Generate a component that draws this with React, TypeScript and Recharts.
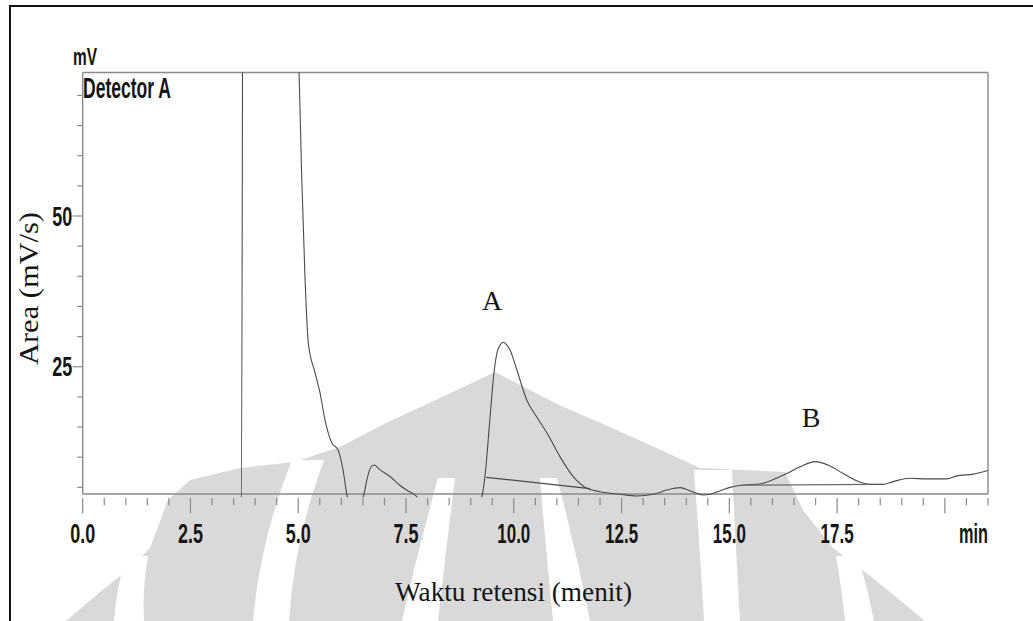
import React from 'react';
import { LineChart, Line, XAxis, YAxis, ReferenceLine } from 'recharts';

// Chromatogram trace (retention time in min, signal in mV)
const traceTime = [
  0, 1.5, 3.0, 3.68, 3.735, 4.3, 4.9, 4.99, 5.019, 5.081, 5.157, 5.234, 5.39, 5.506, 5.62, 5.777,
  5.923, 6.039, 6.125, 6.2, 6.42, 6.51, 6.6, 6.68, 6.76, 6.9, 7.13, 7.36, 7.55, 7.75, 7.85, 8.5,
  9.18, 9.26, 9.33, 9.45, 9.53, 9.61, 9.68, 9.76, 9.84, 9.91, 10.07, 10.3, 10.53, 10.77, 11.07,
  11.38, 11.69, 12.0, 12.47, 12.85, 13.24, 13.55, 13.86, 14.09, 14.4, 14.55, 14.78, 15.02, 15.33,
  15.71, 16.02, 16.33, 16.64, 16.99, 17.33, 17.64, 17.95, 18.26, 18.57, 18.8, 19.19, 19.58, 20.04,
  20.28, 20.66, 21.0,
];
const traceMv = [
  2, 2, 2, 2, 150, 150, 120, 80, 73.8, 56.3, 39.7, 28.9, 24.0, 20.65, 16.2, 12.4,
  11.2, 7.9, 3.9, 2.0, 2.0, 3.45, 6.5, 8.3, 8.7, 7.9, 6.8, 5.3, 4.4, 3.45, 2.0, 2.0,
  2.0, 3.45, 6.77, 16.7, 23.35, 27.3, 28.6, 29.06, 28.6, 27.8, 24.5, 19.5, 16.7, 14.0, 10.1,
  6.77, 4.85, 4.28, 3.85, 3.57, 3.85, 4.56, 4.95, 4.4, 3.73, 3.85, 4.4, 5.0, 5.4,
  5.56, 6.3, 7.3, 8.4, 9.26, 8.55, 7.3, 6.1, 5.5, 5.5, 5.95, 6.5, 6.4, 6.4,
  6.9, 7.2, 7.8,
];

// Integration baselines of peaks A and B
const baselineATime = [9.36, 11.77];
const baselineAMv = [6.67, 4.8];
const baselineBTime = [15.28, 18.27];
const baselineBMv = [5.35, 5.5];

// Axis ticks
const xTicks = [
  0, 0.5, 1, 1.5, 2, 2.5, 3, 3.5, 4, 4.5, 5, 5.5, 6, 6.5, 7, 7.5, 8, 8.5, 9, 9.5, 10, 10.5,
  11, 11.5, 12, 12.5, 13, 13.5, 14, 14.5, 15, 15.5, 16, 16.5, 17, 17.5, 18, 18.5, 19, 19.5, 20,
  20.5, 21,
];
const xMajorTicks = [0, 2.5, 5, 7.5, 10, 12.5, 15, 17.5, 20];
const xMajorLabels = ['0.0', '2.5', '5.0', '7.5', '10.0', '12.5', '15.0', '17.5', ''];
const yTicks = [5, 10, 15, 20, 25, 30, 35, 40, 45, 50, 55, 60, 65, 70];
const yMajorTicks = [25, 50];
const yMajorLabels = ['25', '50'];

const traceData = traceTime.map((t, i) => ({ t, mv: traceMv[i] }));
const baselineAData = baselineATime.map((t, i) => ({ t, mv: baselineAMv[i] }));
const baselineBData = baselineBTime.map((t, i) => ({ t, mv: baselineBMv[i] }));

const condFont = '"Liberation Sans", Arial, sans-serif';
const serifFont = '"Liberation Serif", "Times New Roman", serif';
const axisGray = '#8a8a8a';

const XTick = (props: any) => {
  const { x, y, payload } = props;
  const v = payload.value;
  const idx = xMajorTicks.indexOf(v);
  const major = idx >= 0;
  const label = major ? xMajorLabels[idx] : '';
  const w = label.length > 3 ? 33 : 25;
  return (
    <g>
      <line x1={x} x2={x} y1={y + 0.8} y2={y + (major ? 16 : 8)} stroke={axisGray} strokeWidth={1.2} />
      {label && (
        <text x={x} y={y + 46} textAnchor="middle" fontFamily={condFont} fontWeight="bold" fontSize={27}
          fill="#151515" textLength={w} lengthAdjust="spacingAndGlyphs">{label}</text>
      )}
      {v === 21 && (
        <text x={x} y={y + 46} textAnchor="end" fontFamily={condFont} fontWeight="bold" fontSize={27}
          fill="#151515" textLength={29} lengthAdjust="spacingAndGlyphs">min</text>
      )}
    </g>
  );
};

const YTick = (props: any) => {
  const { x, y, payload } = props;
  const v = payload.value;
  const idx = yMajorTicks.indexOf(v);
  const major = idx >= 0;
  return (
    <g>
      <line x1={x - (major ? 10 : 5.5)} x2={x} y1={y} y2={y} stroke={axisGray} strokeWidth={1.2} />
      {major && (
        <text x={x - 10.5} y={y + 9.5} textAnchor="end" fontFamily={condFont} fontWeight="bold" fontSize={27}
          fill="#151515" textLength={20} lengthAdjust="spacingAndGlyphs">{yMajorLabels[idx]}</text>
      )}
    </g>
  );
};

const Watermark = () => (
  <svg width={1033} height={621} style={{ position: 'absolute', left: 0, top: 0 }}>
    <polygon
      fill="#d9d9d9"
      points="66,621 100,592 130,568 150,548 168,500 190,480 240,468 294,462 340,447 386,423 440,398 495,372 559,405 610,427 661,450 700,468 785,472 803,510 833,548 860,568 890,592 925,621"
    />
    <path fill="#ffffff" d="M126,556 L148,556 Q142,590 144,621 L114,621 Q116,590 126,556 Z" />
    <path fill="#ffffff" d="M836,556 L858,556 Q868,590 874,621 L845,621 Q842,590 836,556 Z" />
    <path fill="#ffffff" d="M292,460 L324,460 Q294,540 289,621 L253,621 Q260,540 292,460 Z" />
    <path fill="#ffffff" d="M694,470 L732,470 Q736,550 740,621 L704,621 Q700,550 694,470 Z" />
    <path fill="#ffffff" d="M438,478 L455,478 Q446,550 438,621 L402,621 Q418,550 438,478 Z" />
    <path fill="#ffffff" d="M540,478 L557,478 Q576,550 590,621 L553,621 Q546,550 540,478 Z" />
  </svg>
);

export default function App() {
  return (
    <div style={{ position: 'absolute', left: 0, top: 0, width: 1033, height: 621, overflow: 'hidden', background: '#fff' }}>
      <Watermark />
      <div style={{ position: 'absolute', left: 9, top: 5, width: 1100, height: 700, borderTop: '2px solid #111', borderLeft: '2px solid #111' }} />
      <div style={{ position: 'absolute', left: 0, top: 0 }}>
        <LineChart width={1033} height={621} data={traceData} margin={{ top: 72.5, right: 45, bottom: 83.7, left: 22.7 }}>
          <XAxis type="number" dataKey="t" domain={[0, 21]} ticks={xTicks} interval={0} tickSize={0} tickMargin={0}
            tickLine={false} axisLine={false} tick={(p: any) => <XTick {...p} />} height={40} allowDataOverflow />
          <YAxis type="number" domain={[3.35, 73.8]} ticks={yTicks} interval={0} tickSize={0} tickMargin={0}
            tickLine={false} axisLine={false} tick={(p: any) => <YTick {...p} />} width={60} allowDataOverflow />
          <ReferenceLine y={3.9} stroke={axisGray} strokeWidth={1.4} />
          <ReferenceLine y={73.8} stroke={axisGray} strokeWidth={1.4} />
          <ReferenceLine segment={[{ x: 0, y: 3.9 }, { x: 0, y: 73.8 }]} stroke={axisGray} strokeWidth={1.4} />
          <ReferenceLine segment={[{ x: 21, y: 3.9 }, { x: 21, y: 73.8 }]} stroke={axisGray} strokeWidth={1.4} />
          <Line type="monotone" dataKey="mv" stroke="#4a4a4a" strokeWidth={1.1} dot={false} isAnimationActive={false} />
          <Line type="linear" data={baselineAData} dataKey="mv" stroke="#4a4a4a" strokeWidth={1.3} dot={false} isAnimationActive={false} />
          <Line type="linear" data={baselineBData} dataKey="mv" stroke="#6a6a6a" strokeWidth={1.1} dot={false} isAnimationActive={false} />
        </LineChart>
      </div>
      <svg width={1033} height={621} style={{ position: 'absolute', left: 0, top: 0, pointerEvents: 'none' }}>
        <text x={73} y={65} fontFamily={condFont} fontWeight="bold" fontSize={24} fill="#151515" textLength={24} lengthAdjust="spacingAndGlyphs">mV</text>
        <text x={83} y={98} fontFamily={condFont} fontWeight="bold" fontSize={29} fill="#151515" textLength={88} lengthAdjust="spacingAndGlyphs">Detector A</text>
        <text transform="translate(38,288.5) rotate(-90)" textAnchor="middle" fontFamily={serifFont} fontSize={27} fill="#151515" textLength={153} lengthAdjust="spacingAndGlyphs">Area (mV/s)</text>
        <text x={395} y={601} fontFamily={serifFont} fontSize={27} fill="#151515" textLength={237} lengthAdjust="spacingAndGlyphs">Waktu retensi (menit)</text>
        <text x={492} y={310} textAnchor="middle" fontFamily={serifFont} fontSize={28} fill="#151515">A</text>
        <text x={811} y={427} textAnchor="middle" fontFamily={serifFont} fontSize={28} fill="#151515">B</text>
      </svg>
    </div>
  );
}
